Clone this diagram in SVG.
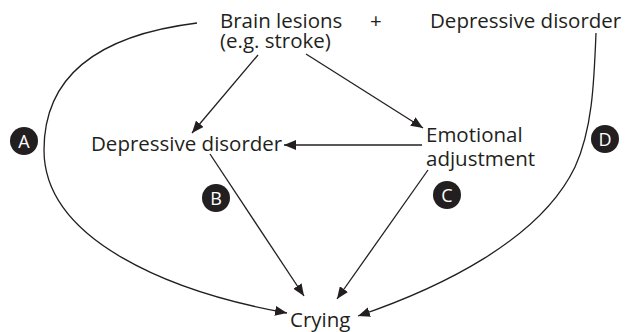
<svg xmlns="http://www.w3.org/2000/svg" width="625" height="332" viewBox="0 0 625 332">
  <defs>
    <marker id="arrow" viewBox="0 0 12 10" refX="12" refY="5" markerWidth="12" markerHeight="10" markerUnits="userSpaceOnUse" orient="auto">
      <path d="M0,0 L12,5 L0,10 Z" fill="#231f20"/>
    </marker>
    <style>
      .lbl { font-family: "Open Sans", "Noto Sans", sans-serif; font-size: 20.5px; fill: #231f20; }
      .edge { fill: none; stroke: #231f20; stroke-width: 1.3; marker-end: url(#arrow); }
      .badge circle { fill: #231f20; }
      .badge text { font-family: "Open Sans", "Noto Sans", sans-serif; font-size: 18px; fill: #ffffff; text-anchor: middle; }
    </style>
  </defs>

  <g id="connectors">
    <path class="edge" d="M197,23 C100,35 44,75 44,150 C44,240 170,292 287,313"/>
    <path class="edge" d="M258,55 L192,133"/>
    <path class="edge" d="M306,54 L423,128"/>
    <path class="edge" d="M422,145 L284,145"/>
    <path class="edge" d="M210,154 L304,296"/>
    <path class="edge" d="M428,170 L337,299"/>
    <path class="edge" d="M596,33 C594,85 592,130 575,167 C540,240 440,288 358,316"/>
  </g>

  <g id="brain-lesions">
    <text class="lbl" x="220" y="28">Brain lesions</text>
    <text class="lbl" x="220" y="48">(e.g. stroke)</text>
  </g>
  <g id="plus">
    <text class="lbl" x="370" y="28">+</text>
  </g>
  <g id="depressive-disorder-top">
    <text class="lbl" x="430" y="28">Depressive disorder</text>
  </g>
  <g id="depressive-disorder">
    <text class="lbl" x="91" y="151">Depressive disorder</text>
  </g>
  <g id="emotional-adjustment">
    <text class="lbl" x="426" y="142">Emotional</text>
    <text class="lbl" x="426" y="166">adjustment</text>
  </g>
  <g id="crying">
    <text class="lbl" x="290" y="327">Crying</text>
  </g>

  <g id="badge-a" class="badge">
    <circle cx="24" cy="141" r="14"/>
    <text x="24" y="147.5">A</text>
  </g>
  <g id="badge-b" class="badge">
    <circle cx="216" cy="198" r="14"/>
    <text x="216" y="204.5">B</text>
  </g>
  <g id="badge-c" class="badge">
    <circle cx="447" cy="195" r="14"/>
    <text x="447" y="201.5">C</text>
  </g>
  <g id="badge-d" class="badge">
    <circle cx="605" cy="139" r="14"/>
    <text x="605" y="145.5">D</text>
  </g>
</svg>
